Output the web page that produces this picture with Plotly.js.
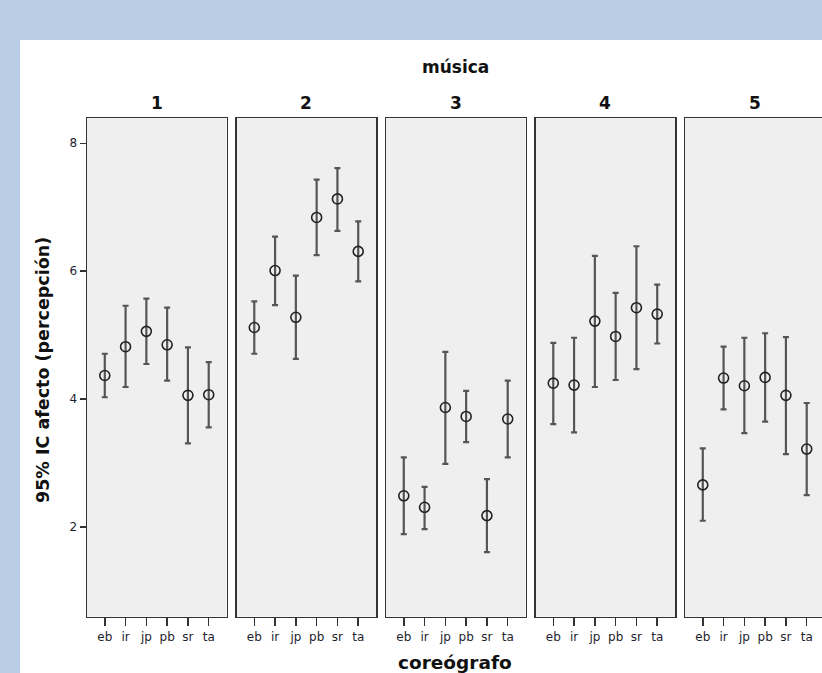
<!DOCTYPE html>
<html>
<head>
<meta charset="utf-8">
<script src="https://cdn.plot.ly/plotly-3.0.1.min.js"></script>
<style>
html,body{margin:0;padding:0;width:822px;height:673px;overflow:hidden;background:#b9cde4;}
#chart{position:absolute;left:20px;top:40px;width:820px;height:633px;background:#fff;}
</style>
</head>
<body>
<div id="chart"></div>
<script>
// Data
const coreografos = ['eb','ir','jp','pb','sr','ta'];
const musica = ['1','2','3','4','5'];
const media1 = [4.37, 4.82, 5.06, 4.85, 4.06, 4.07];
const sup1   = [4.71, 5.46, 5.57, 5.43, 4.81, 4.58];
const inf1   = [4.03, 4.19, 4.55, 4.29, 3.31, 3.56];
const media2 = [5.12, 6.01, 5.28, 6.84, 7.13, 6.31];
const sup2   = [5.53, 6.54, 5.93, 7.43, 7.61, 6.78];
const inf2   = [4.71, 5.47, 4.63, 6.25, 6.63, 5.84];
const media3 = [2.49, 2.31, 3.87, 3.73, 2.18, 3.69];
const sup3   = [3.09, 2.63, 4.74, 4.13, 2.75, 4.29];
const inf3   = [1.89, 1.97, 2.99, 3.33, 1.61, 3.09];
const media4 = [4.25, 4.22, 5.22, 4.98, 5.43, 5.33];
const sup4   = [4.88, 4.96, 6.24, 5.66, 6.39, 5.79];
const inf4   = [3.61, 3.48, 4.19, 4.30, 4.47, 4.87];
const media5 = [2.66, 4.33, 4.21, 4.34, 4.06, 3.22];
const sup5   = [3.23, 4.82, 4.96, 5.03, 4.97, 3.94];
const inf5   = [2.10, 3.84, 3.47, 3.65, 3.14, 2.50];
const yTicks = [2, 4, 6, 8];

const medias = [media1, media2, media3, media4, media5];
const sups = [sup1, sup2, sup3, sup4, sup5];
const infs = [inf1, inf2, inf3, inf4, inf5];

const W = 820, H = 633;
const panelLeft0 = 67, panelW = 139.5, gap = 10;
const yDom = [(H - 576.7) / H, (H - 78.3) / H];
const tickFont = {family: 'DejaVu Sans', size: 12, color: '#1e1e2e'};
const titleFont = (s) => ({family: 'DejaVu Sans', size: s, color: '#111', weight: 'bold'});

const traces = [];
const layout = {
  width: W, height: H,
  margin: {l: 0, r: 0, t: 0, b: 0},
  paper_bgcolor: '#ffffff',
  plot_bgcolor: '#efefef',
  showlegend: false,
  annotations: [],
  font: {family: 'DejaVu Sans', color: '#111'}
};

musica.forEach((m, i) => {
  const suf = i === 0 ? '' : String(i + 1);
  const x0 = panelLeft0 + i * (panelW + gap);
  const x1 = x0 + panelW;
  const mean = medias[i];
  traces.push({
    type: 'scatter', mode: 'markers',
    x: coreografos.map((c, k) => k),
    y: mean,
    xaxis: 'x' + suf, yaxis: 'y' + suf,
    marker: {symbol: 'circle-open', size: 10, color: '#222', line: {width: 1.6, color: '#222'}},
    error_y: {
      type: 'data', symmetric: false,
      array: sups[i].map((s, k) => s - mean[k]),
      arrayminus: infs[i].map((s, k) => mean[k] - s),
      color: '#555', thickness: 2.2, width: 3
    },
    hoverinfo: 'skip'
  });
  layout['xaxis' + suf] = {
    domain: [x0 / W, x1 / W],
    anchor: 'y' + suf,
    range: [-0.855, 5.855],
    tickmode: 'array',
    tickvals: coreografos.map((c, k) => k),
    ticktext: coreografos,
    ticks: 'outside', ticklen: 8, tickwidth: 1.5, tickcolor: '#333',
    tickfont: tickFont,
    showgrid: false, zeroline: false,
    showline: true, linecolor: '#333', linewidth: 1.5, mirror: true,
    fixedrange: true
  };
  layout['yaxis' + suf] = {
    domain: yDom,
    anchor: 'x' + suf,
    range: [0.6, 8.39],
    tickmode: 'array',
    tickvals: yTicks,
    ticktext: yTicks.map(String),
    showticklabels: i === 0,
    ticks: i === 0 ? 'outside' : '',
    ticklen: 6, tickwidth: 1.5, tickcolor: '#333',
    tickfont: tickFont,
    showgrid: false, zeroline: false,
    showline: true, linecolor: '#333', linewidth: 1.5, mirror: true,
    fixedrange: true
  };
  if (i > 0) layout['yaxis' + suf].matches = 'y';
  layout.annotations.push({
    text: m, xref: 'paper', yref: 'paper',
    x: (x0 + x1) / 2 / W, y: 1 - 63 / H,
    xanchor: 'center', yanchor: 'middle', showarrow: false,
    font: titleFont(17)
  });
});

layout.annotations.push({
  text: 'música', xref: 'paper', yref: 'paper',
  x: 435 / W, y: 1 - 27 / H, xanchor: 'center', yanchor: 'middle', showarrow: false,
  font: titleFont(17)
});
layout.annotations.push({
  text: 'coreógrafo', xref: 'paper', yref: 'paper',
  x: 435 / W, y: 1 - 622 / H, xanchor: 'center', yanchor: 'middle', showarrow: false,
  font: titleFont(18.5)
});
layout.annotations.push({
  text: '95% IC afecto (percepción)', xref: 'paper', yref: 'paper',
  x: 23 / W, y: 1 - 330 / H, xanchor: 'center', yanchor: 'middle', showarrow: false,
  textangle: -90,
  font: titleFont(17.5)
});

Plotly.newPlot('chart', traces, layout, {staticPlot: true, displayModeBar: false});
</script>
</body>
</html>
